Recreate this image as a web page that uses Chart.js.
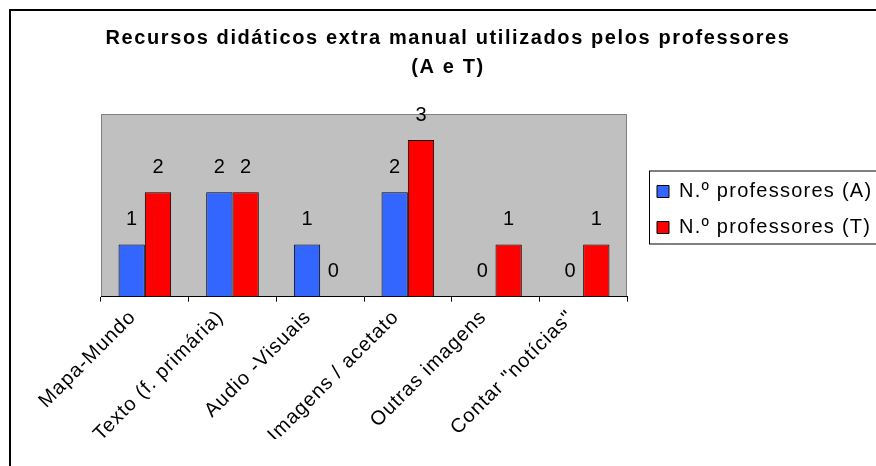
<!DOCTYPE html>
<html>
<head>
<meta charset="utf-8">
<script src="https://cdn.jsdelivr.net/npm/chart.js@4/dist/chart.umd.min.js"></script>
<style>
  html, body { margin: 0; padding: 0; background: #fff; }
  #wrap { width: 876px; height: 466px; }
</style>
</head>
<body>
<div id="wrap"><canvas id="chart"></canvas></div>
<script>
// data
const categories = ['Mapa-Mundo', 'Texto (f. primária)', 'Audio -Visuais', 'Imagens / acetato', 'Outras imagens', 'Contar "notícias"'];
const seriesNames = ['N.º professores (A)', 'N.º professores (T)'];
const valuesA = [1, 2, 1, 2, 0, 0];
const valuesT = [2, 2, 0, 3, 1, 1];
const titleLines = ['Recursos didáticos extra manual utilizados pelos professores', '(A e T)'];

Chart.defaults.font.family = "'Liberation Sans', Arial, sans-serif";
Chart.defaults.color = '#000';

// white page, outer frame and grey plot area
const backgroundPlugin = {
    id: 'background',
    beforeDraw(chart) {
        const ctx = chart.ctx;
        const a = chart.chartArea;
        ctx.save();
        ctx.fillStyle = '#fff';
        ctx.fillRect(0, 0, chart.width, chart.height);
        ctx.strokeStyle = '#000';
        ctx.lineWidth = 2;
        ctx.strokeRect(10, 10, chart.width + 20, chart.height + 20);
        ctx.fillStyle = '#c0c0c0';
        ctx.fillRect(a.left, a.top, a.width, a.height);
        ctx.strokeStyle = '#808080';
        ctx.lineWidth = 1;
        ctx.beginPath();
        ctx.moveTo(a.left + 0.5, a.bottom);
        ctx.lineTo(a.left + 0.5, a.top + 0.5);
        ctx.lineTo(a.right - 0.5, a.top + 0.5);
        ctx.lineTo(a.right - 0.5, a.bottom);
        ctx.stroke();
        ctx.restore();
    }
};

// wider letter spacing for title, legend and category labels
function withSpacing(obj, method, spacing) {
    const orig = obj[method];
    obj[method] = function (...args) {
        this.ctx.letterSpacing = spacing;
        orig.apply(this, args);
        this.ctx.letterSpacing = '0px';
    };
}
const spacingPlugin = {
    id: 'spacing',
    beforeLayout(chart) {
        const lg = chart.legend;
        if (lg && !lg._patched) {
            const fit = lg.fit;
            lg.fit = function () {
                fit.call(this);
                this.width = 235;
            };
            withSpacing(lg, 'draw', '1.25px');
            lg._patched = true;
        }
        const tb = chart.titleBlock;
        if (tb && !tb._patched) {
            withSpacing(tb, 'draw', '1.6px');
            tb._patched = true;
        }
        const sx = chart.scales.x;
        if (sx && !sx._patched) {
            withSpacing(sx, 'drawLabels', '1px');
            sx._patched = true;
        }
    },
    afterLayout(chart) {
        // legend items sit a little above the plot centre
        const lg = chart.legend;
        lg.top -= 20;
        lg.height += 20;
    }
};

// value labels above each bar
const valueLabelPlugin = {
    id: 'valueLabels',
    afterDatasetsDraw(chart) {
        const ctx = chart.ctx;
        ctx.save();
        ctx.font = "20px 'Liberation Sans', Arial, sans-serif";
        ctx.fillStyle = '#000';
        ctx.textAlign = 'center';
        ctx.textBaseline = 'middle';
        chart.data.datasets.forEach((ds, i) => {
            chart.getDatasetMeta(i).data.forEach((bar, j) => {
                ctx.fillText(String(ds.data[j]), bar.x, bar.y - 25);
            });
        });
        ctx.restore();
    }
};

// box around the legend
const legendBoxPlugin = {
    id: 'legendBox',
    afterDraw(chart) {
        const boxes = chart.legend.legendHitBoxes;
        if (!boxes || !boxes.length) return;
        const first = boxes[0];
        const last = boxes[boxes.length - 1];
        const ctx = chart.ctx;
        ctx.save();
        ctx.strokeStyle = '#000';
        ctx.lineWidth = 1;
        ctx.strokeRect(first.left - 7.5, first.top - 10.5, chart.width, last.top + last.height - first.top + 17);
        ctx.restore();
    }
};

const ctx = document.getElementById('chart').getContext('2d');
new Chart(ctx, {
    type: 'bar',
    data: {
        labels: categories,
        datasets: [
            {
                label: seriesNames[0],
                data: valuesA,
                backgroundColor: '#3366ff',
                borderColor: '#000',
                borderWidth: 1
            },
            {
                label: seriesNames[1],
                data: valuesT,
                backgroundColor: '#ff0000',
                borderColor: '#000',
                borderWidth: 1
            }
        ]
    },
    options: {
        responsive: true,
        maintainAspectRatio: false,
        animation: false,
        layout: { padding: { left: 20, right: 0, top: 0, bottom: 27 } },
        categoryPercentage: 0.6,
        barPercentage: 1,
        scales: {
            x: {
                offset: true,
                grid: { offset: true, drawOnChartArea: false, drawTicks: true, tickLength: 5, color: '#000' },
                border: { display: true, color: '#000', width: 1 },
                ticks: {
                    autoSkip: false,
                    minRotation: 45,
                    maxRotation: 45,
                    labelOffset: -12,
                    padding: 4,
                    font: { size: 20 },
                    color: '#000'
                }
            },
            y: {
                position: 'left',
                min: 0,
                max: 3.5,
                grid: { display: false },
                border: { display: false },
                ticks: { display: false },
                afterFit(scale) { scale.width = 81; }
            },
            yGap: {
                type: 'linear',
                axis: 'y',
                position: 'right',
                grid: { display: false },
                border: { display: false },
                ticks: { display: false },
                afterFit(scale) { scale.width = 14; }
            }
        },
        plugins: {
            title: {
                display: true,
                text: titleLines,
                color: '#000',
                font: { size: 20, weight: 'bold', lineHeight: 1.45 },
                padding: { top: 24, bottom: 32 }
            },
            legend: {
                position: 'right',
                labels: {
                    boxWidth: 12,
                    boxHeight: 12,
                    padding: 16,
                    font: { size: 20 },
                    color: '#000'
                }
            },
            tooltip: { enabled: false }
        }
    },
    plugins: [backgroundPlugin, spacingPlugin, valueLabelPlugin, legendBoxPlugin]
});
</script>
</body>
</html>
